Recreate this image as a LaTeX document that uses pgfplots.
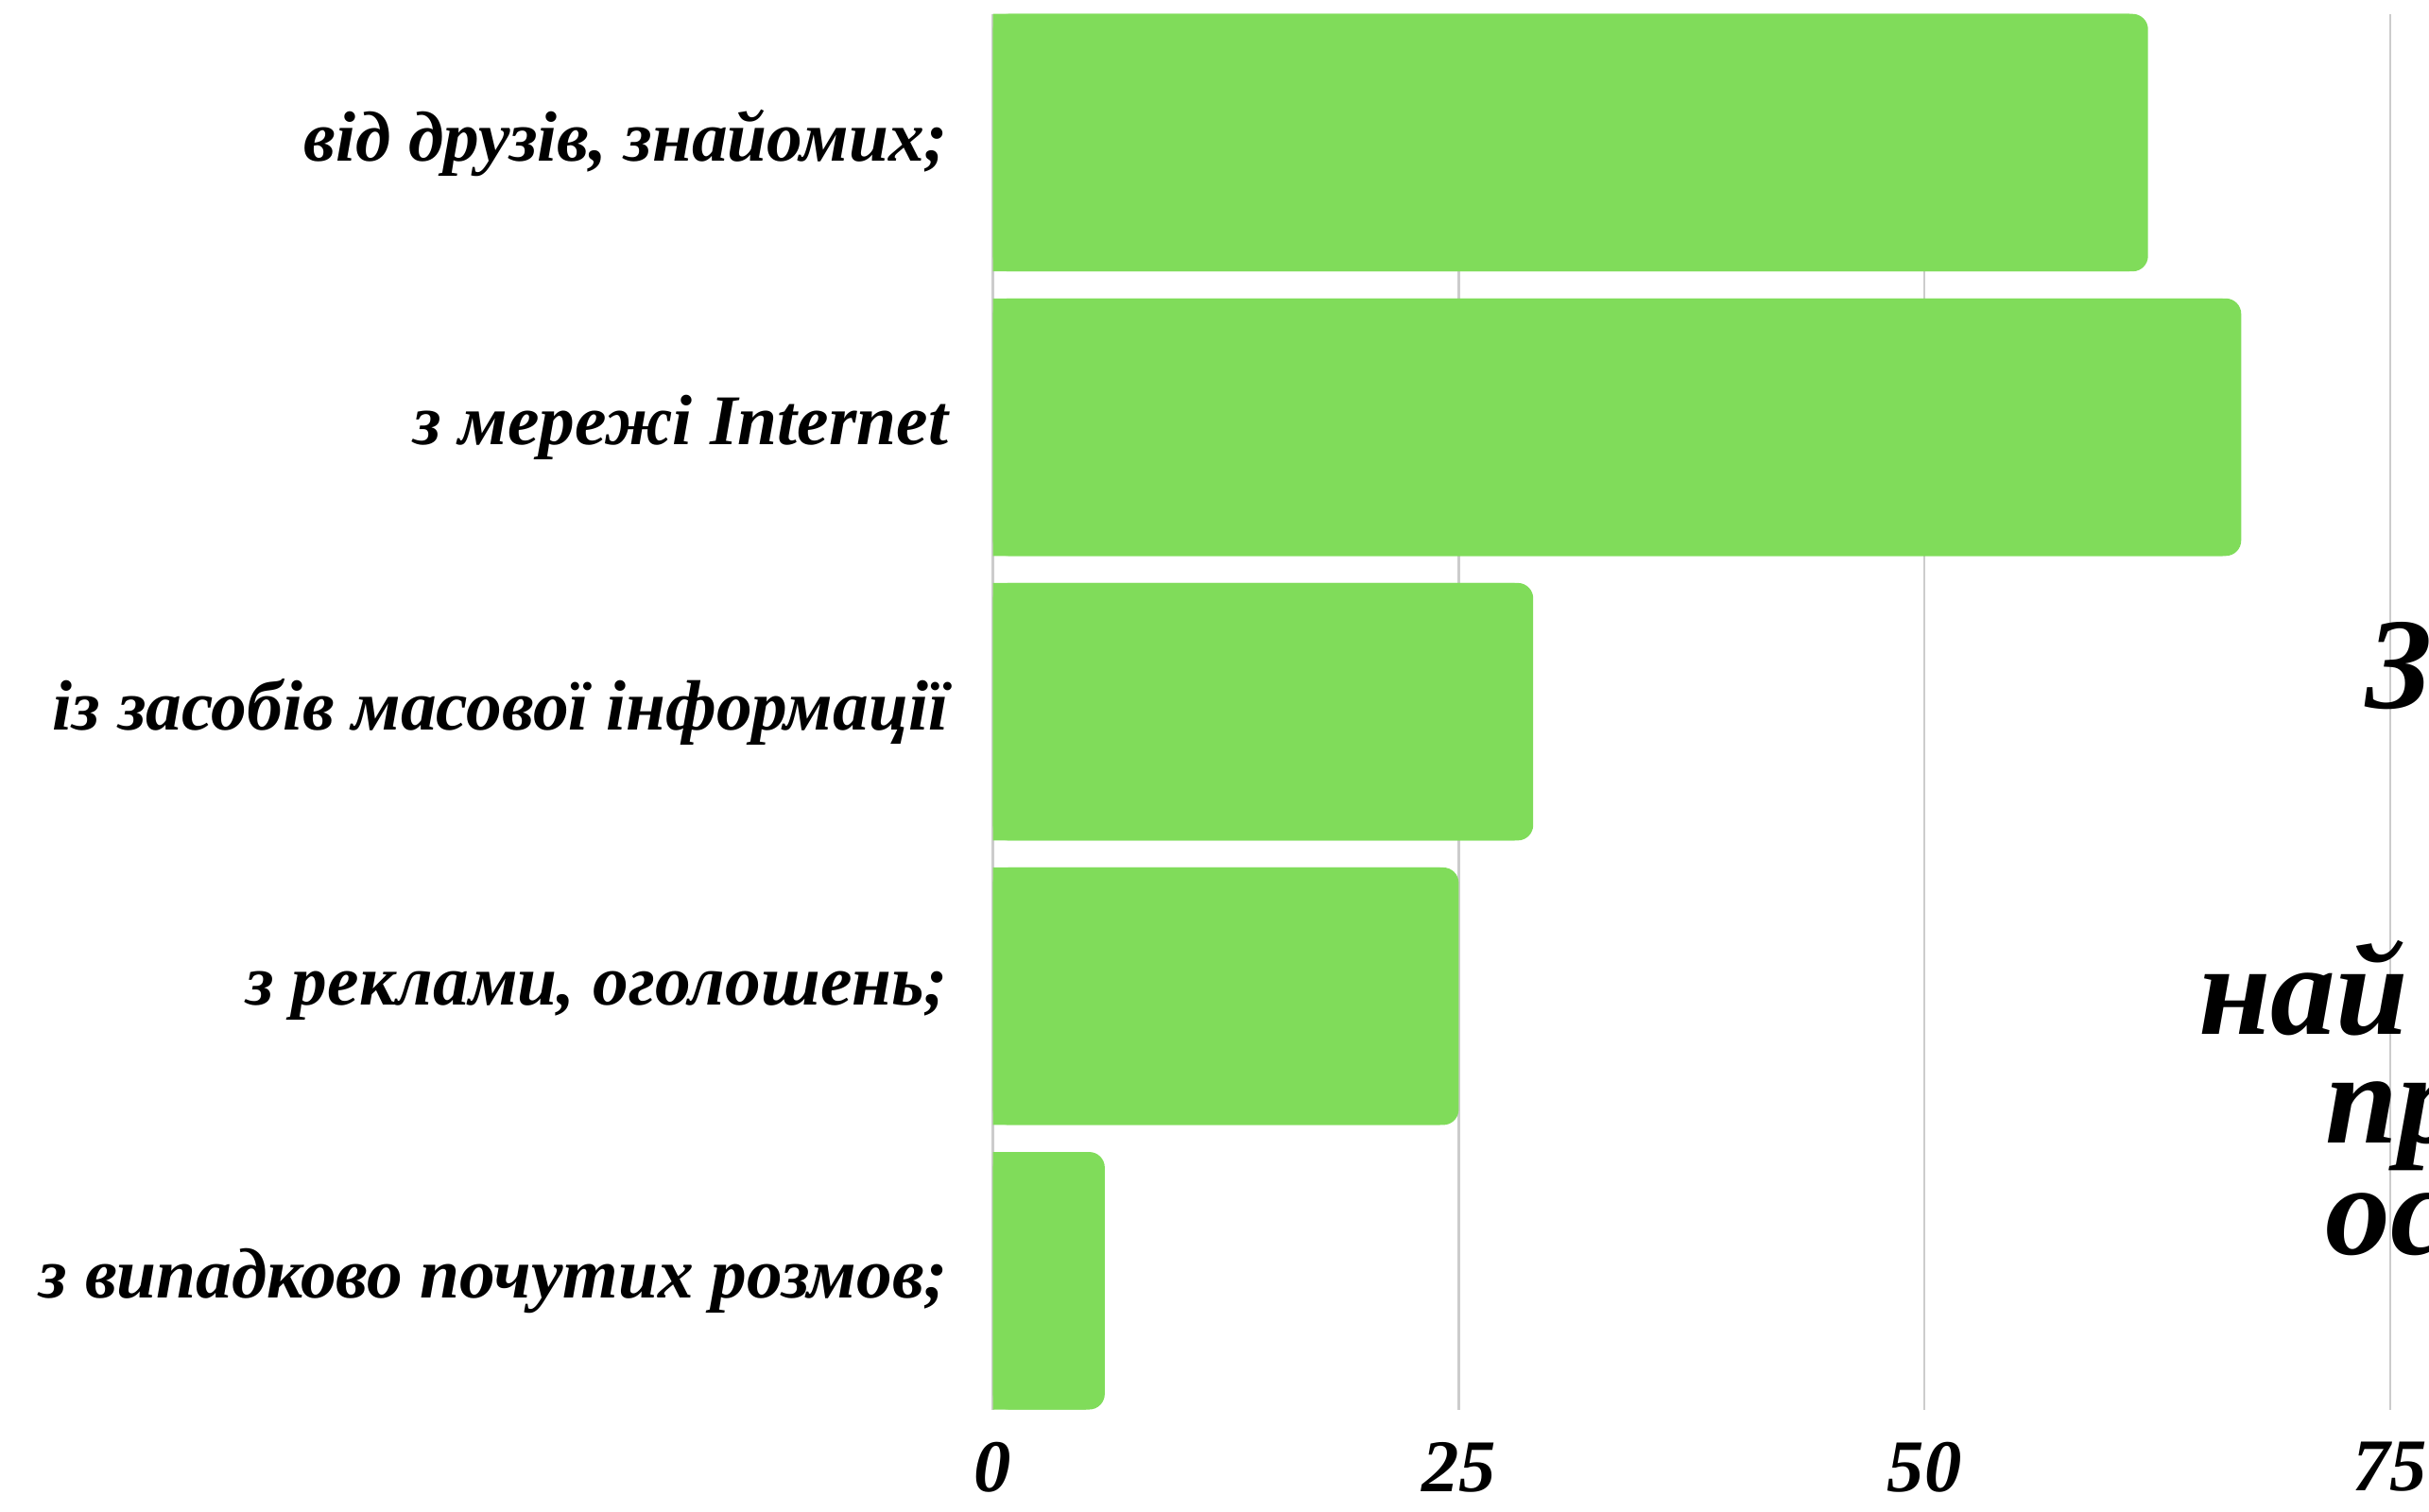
\documentclass[border=0pt]{standalone}
\usepackage{pgfplots}
\pgfplotsset{compat=1.18}
\usepackage{pgfplotstable}
\usepackage{fontspec}
\setmainfont{Liberation Serif}
\definecolor{barg}{HTML}{80DC5A}
\definecolor{gridg}{HTML}{CCCCCC}
\pgfplotstableread{
y v
0 6
1 25
2 29
3 67
4 62
}\datatab
\begin{document}
\begin{tikzpicture}
\begin{axis}[
 at={(0,0)}, anchor=south west,
 scale only axis, width=463.5pt, height=450.5pt,
 xmin=0, xmax=77.08, ymin=-0.4525, ymax=4.4525,
 axis line style={draw=none},
 xtick={0,25,50,75}, ytick={0,1,2,3,4},
 yticklabels={з випадково почутих розмов;, {з реклами, оголошень;}, із засобів масової інформації\ , з мережі Internet, {від друзів, знайомих;}},
 xmajorgrids, major grid style={gridg, line width=0.7pt},
 major tick length=0pt, tick style={draw=none},
 /pgf/number format/assume math mode=true,
 ticklabel style={font=\fontsize{23}{27}\selectfont\bfseries\itshape},
 xticklabel style={anchor=north, yshift=-7pt, font=\fontsize{24}{28}\selectfont\bfseries\itshape},
 yticklabel style={anchor=east, xshift=-11pt},
 bar width=0.905,
]
\addplot[xbar, fill=barg, draw=none, rounded corners=5pt, bar shift=0pt] table[x=v, y=y]{\datatab};
\addplot[xbar, fill=barg, draw=none, bar shift=0pt] table[x expr=\thisrow{v}-1, y=y]{\datatab};
\end{axis}
\begin{scope}[font=\fontsize{42}{46}\selectfont\bfseries\itshape]
\node[anchor=base west, inner sep=0pt] at (443pt,226.5pt) {З};
\node[anchor=base west, inner sep=0pt] at (389pt,121pt) {най};
\node[anchor=base west, inner sep=0pt] at (430pt,86pt) {пр};
\node[anchor=base west, inner sep=0pt] at (430pt,50pt) {ос};
\end{scope}
\pgfresetboundingbox
\useasboundingbox (-320.5pt,-33pt) rectangle (463.5pt,455pt);
\end{tikzpicture}
\end{document}
